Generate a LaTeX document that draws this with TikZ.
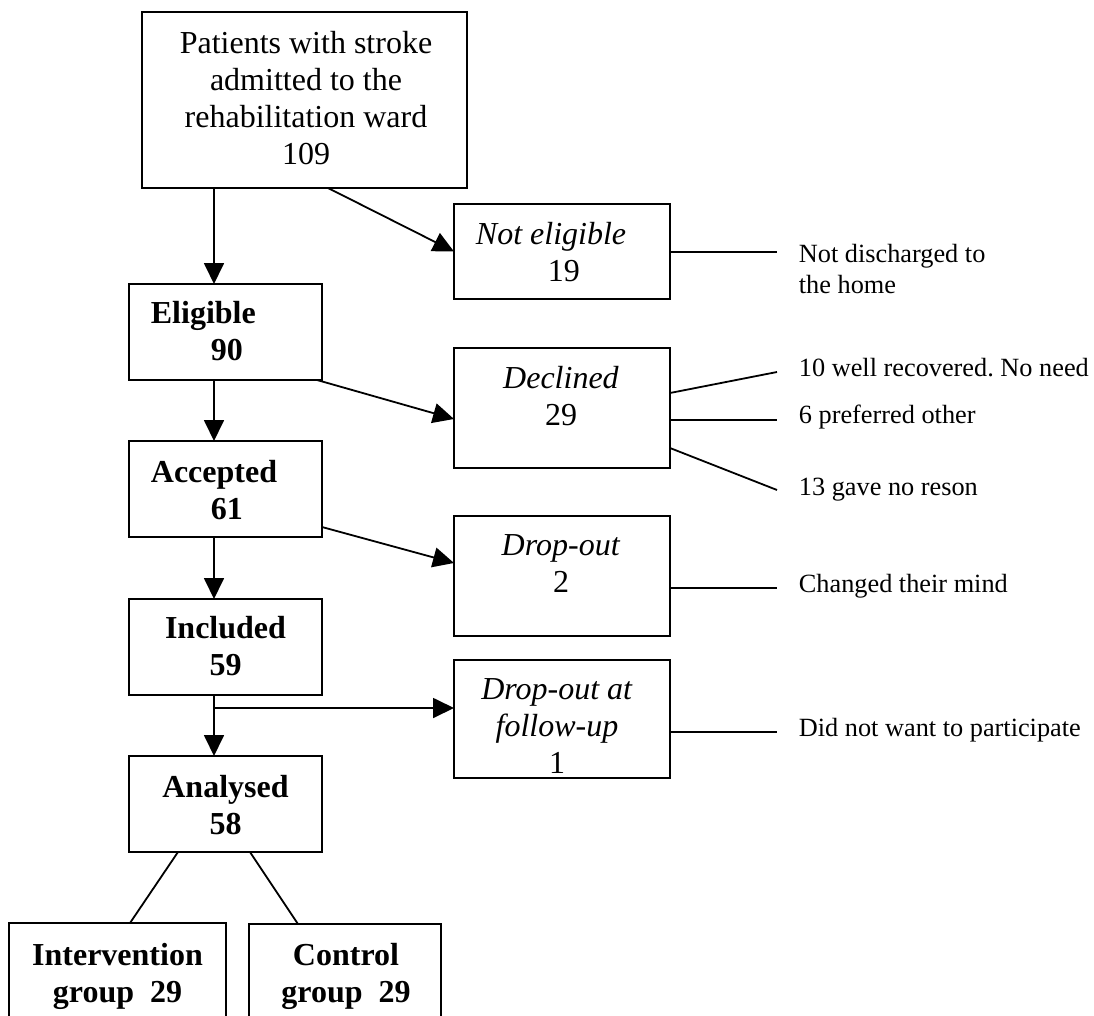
\documentclass[tikz,border=0pt]{standalone}
\usepackage{fontspec}
\setmainfont{Liberation Serif}
\frenchspacing
\usetikzlibrary{arrows.meta,fit,calc}

\begin{document}
\begin{tikzpicture}[x=1pt,y=-1pt,
  line width=1.8pt,
  box/.style={draw, rectangle, inner sep=0pt, outer sep=0pt},
  arr/.style={-{Triangle[length=21pt,width=20pt]}},
  main/.style={font=\fontsize{32pt}{37pt}\selectfont, inner sep=0pt},
  side/.style={font=\fontsize{26.3pt}{31pt}\selectfont, inner sep=0pt, anchor=west, align=left},
  sideone/.style={side, text height=0.66em, text depth=0pt},
]
\useasboundingbox (0,0) rectangle (1094,1016);
\clip (0,0) rectangle (1094,1016);

% main column
\node[box, fit={(142,12) (467,188)}] (top) {};
\node[box, fit={(129,284) (322,380)}] (elig) {};
\node[box, fit={(129,441) (322,537)}] (acc) {};
\node[box, fit={(129,599) (322,695)}] (incl) {};
\node[box, fit={(129,756) (322,852)}] (anal) {};
\node[box, fit={(9,923) (226,1040)}] (interv) {};
\node[box, fit={(249,924) (441,1040)}] (ctrl) {};

% side column
\node[box, fit={(454,204) (670,299)}] (noteli) {};
\node[box, fit={(454,348) (670,468)}] (decl) {};
\node[box, fit={(454,516) (670,636)}] (drop) {};
\node[box, fit={(454,660) (670,778)}] (fup) {};

% box texts
\node[main, align=center] (t-top) at (306,98) {Patients with stroke\\admitted to the\\rehabilitation ward\\109};
\node[main, anchor=west, align=left] (t-elig) at (150,331.5) {\textbf{Eligible}\\\hspace*{60pt}\textbf{90}};
\node[main, anchor=west, align=left] (t-acc) at (150,490) {\textbf{Accepted}\\\hspace*{60pt}\textbf{61}};
\node[main, align=center] (t-incl) at (225.5,646.5) {\textbf{Included}\\\textbf{59}};
\node[main, align=center] (t-anal) at (225.5,805) {\textbf{Analysed}\\\textbf{58}};
\node[main, align=center] (t-int) at (117.5,976) {\textbf{Intervention}\\\textbf{group\ \ 29}};
\node[main, align=center] (t-ctrl) at (346,976) {\textbf{Control}\\\textbf{group\ \ 29}};
\node[main, anchor=west, align=left] (t-noteli) at (475,252) {\textit{Not eligible}\\\hspace*{72pt}19};
\node[main, align=center] (t-decl) at (561,396) {\textit{Declined}\\29};
\node[main, align=center] (t-drop) at (561,564) {\textit{Drop-out}\\2};
\node[main, align=center] (t-fup) at (557,726) {\textit{Drop-out at}\\\textit{follow-up}\\1};

% reasons
\node[side] (r-home) at (798,269) {Not discharged to\\the home};
\node[sideone] (r-rec) at (798,373) {10 well recovered. No need};
\node[sideone] (r-pref) at (798,420) {6 preferred other};
\node[sideone] (r-none) at (798,492) {13 gave no reson};
\node[sideone] (r-mind) at (798,589) {Changed their mind};
\node[sideone] (r-part) at (798,733) {Did not want to participate};

% flow down the main column
\coordinate (spine) at (214,0);
\coordinate (br) at (214,708);
\draw[arr] (spine |- top.south) -- (spine |- elig.north);
\draw[arr] (spine |- elig.south) -- (spine |- acc.north);
\draw[arr] (spine |- acc.south) -- (spine |- incl.north);
\draw[arr] (spine |- incl.south) -- (spine |- anal.north);

% exits to the side column
\draw[arr] ([xshift=23.5pt]top.south) -- (noteli.west);
\draw[arr] ([xshift=-5pt]elig.south east) -- ([yshift=-11pt]decl.west);
\draw[arr] ([yshift=10pt]acc.south east) -- ([yshift=13pt]drop.west);
\draw[arr] (br) -- (br -| fup.west);

% split into groups
\draw ([xshift=-47.5pt]anal.south) -- ([xshift=12.5pt]interv.north);
\draw ([xshift=24.5pt]anal.south) -- ([xshift=-47pt]ctrl.north);

% reason lines
\draw ([yshift=-0.5pt]noteli.east) -- ([xshift=-21pt,yshift=17pt]r-home.west);
\draw ([yshift=15pt]decl.east) -- ([xshift=-21pt,yshift=1pt]r-rec.west);
\draw ([yshift=-12pt]decl.east) -- ([xshift=-21pt]r-pref.west);
\draw ([yshift=-40pt]decl.east) -- ([xshift=-21pt,yshift=2pt]r-none.west);
\draw ([yshift=-12pt]drop.east) -- ([xshift=-21pt,yshift=1pt]r-mind.west);
\draw ([yshift=-13pt]fup.east) -- ([xshift=-21pt,yshift=1pt]r-part.west);
\end{tikzpicture}
\end{document}
